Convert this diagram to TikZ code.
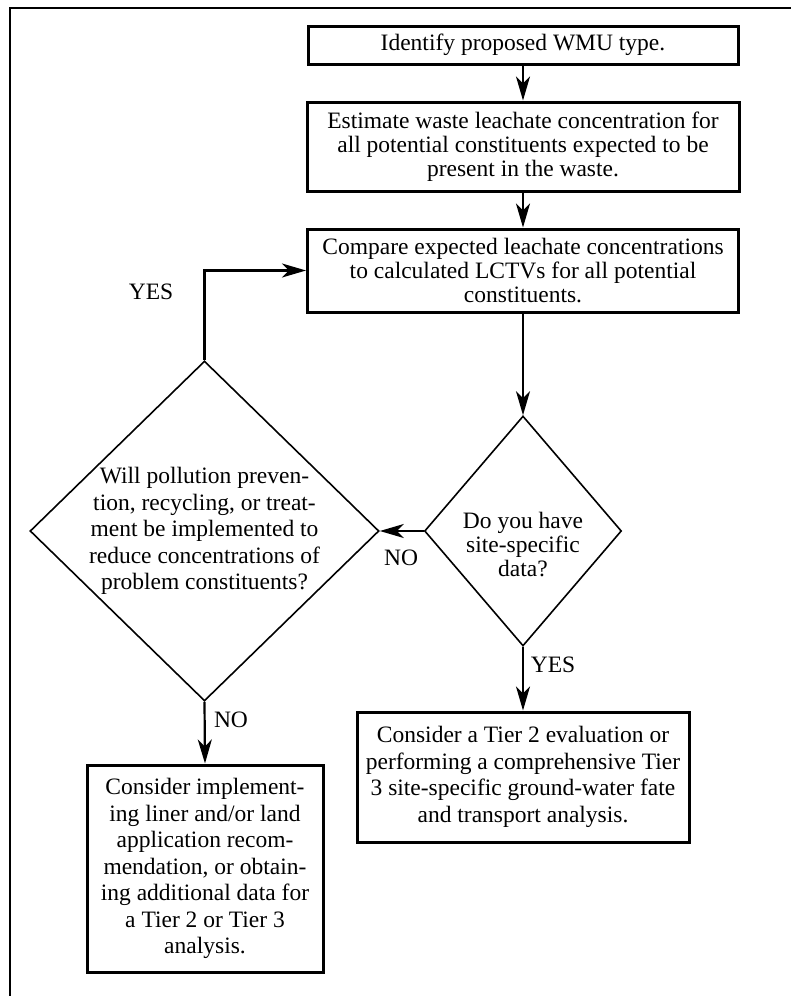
\documentclass[tikz,border=0pt]{standalone}
\usepackage{fontspec}
\setmainfont{Liberation Serif}
\usetikzlibrary{shapes.geometric,arrows.meta}

\begin{document}
\begin{tikzpicture}[x=1pt,y=-1pt,
	every node/.style={font=\fontsize{23.5}{24}\selectfont},
	box/.style={draw,line width=3pt,inner sep=0pt,align=center},
	decision/.style={draw,diamond,line width=1.6pt,inner sep=0pt},
	arr/.style={line width=2.2pt,-{Stealth[length=24pt,width=14pt,inset=7pt]}},
	lbl/.style={inner sep=0pt,align=center}]
		\useasboundingbox (0,0) rectangle (791,996);
		\draw [line width=1.2pt] (10,996) -- (10,8) -- (791,8);

		\node[box,minimum width=430pt,minimum height=38pt] (wmu) at (523,45) {Identify proposed WMU type.};
		\node[box,minimum width=432pt,minimum height=89pt] (estimate) at (523,146.5)
			{Estimate waste leachate concentration for\\all potential constituents expected to be\\present in the waste.};
		\node[box,minimum width=431pt,minimum height=83pt] (compare) at (523,270.5)
			{Compare expected leachate concentrations\\to calculated LCTVs for all potential\\constituents.};

		\node[decision,minimum width=197pt,minimum height=230pt] (site) at (523,531) {};
		\node[lbl] (sitetxt) at (523,545) {Do you have\\site-specific\\data?};
		\node[decision,minimum width=349pt,minimum height=340pt] (will) at (204.5,531) {};
		\node[lbl,font=\fontsize{23.5}{26.5}\selectfont] (willtxt) at (will)
			{Will pollution preven-\\tion, recycling, or treat-\\ment be implemented to\\reduce concentrations of\\problem constituents?};

		\node[box,minimum width=332pt,minimum height=130pt,font=\fontsize{23.5}{26.5}\selectfont] (tier) at (523,777)
			{Consider a Tier 2 evaluation or\\performing a comprehensive Tier\\3 site-specific ground-water fate\\and transport analysis.};
		\node[box,minimum width=236pt,minimum height=207pt,font=\fontsize{23.5}{26.5}\selectfont] (liner) at (205,868.5)
			{Consider implement-\\ing liner and/or land\\application recom-\\mendation, or obtain-\\ing additional data for\\a Tier 2 or Tier 3\\analysis.};

		\draw [arr] (wmu) -- (estimate);
		\draw [arr] (estimate) -- (compare);
		\draw [arr] (compare) -- (site);
		\draw [arr] (will.north) |- (compare.west);
		\draw [arr] (site.west) -- (will.east);
		\draw [arr] (site.south) -- (tier.north);
		\draw [arr] (will.south) -- (liner.north);

		\node[lbl] (yesloop) at (151,292) {YES};
		\node[lbl] (nosite) at (401,558) {NO};
		\node[lbl] (yessite) at (553,665) {YES};
		\node[lbl] (nowill) at (231,720) {NO};
	\end{tikzpicture}
\end{document}
